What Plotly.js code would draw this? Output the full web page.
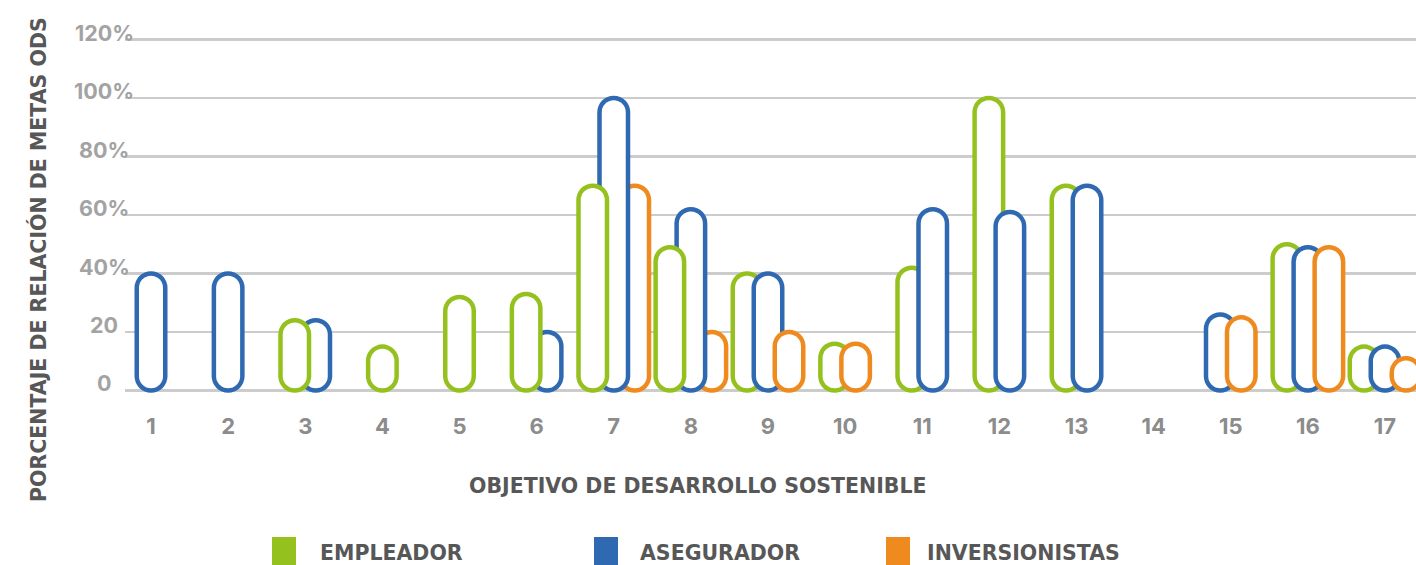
<!DOCTYPE html>
<html>
<head>
<meta charset="utf-8">
<script src="https://cdn.plot.ly/plotly-3.0.1.min.js"></script>
<style>
  html, body { margin: 0; padding: 0; background: #ffffff; }
  #chart .scatterlayer .js-line { stroke-linecap: round; }
</style>
</head>
<body>
<div id="chart" style="width:1416px;height:565px;"></div>
<script>
// ---------------- DATA ----------------
const categories = ['1','2','3','4','5','6','7','8','9','10','11','12','13','14','15','16','17'];
const empleador      = [null, null, 24, 15, 32, 33, 70, 49, 40, 16, 42, 100, 70, null, null, 50, 15];
const asegurador     = [40, 40, 24, null, null, 20, 100, 62, 40, null, 62, 61, 70, null, 26, 49, 15];
const inversionistas = [null, null, null, null, null, null, 70, 20, 20, 16, null, null, null, null, 25, 49, 11];
const seriesNames = ['EMPLEADOR', 'ASEGURADOR', 'INVERSIONISTAS'];
const yTickVals = [0, 20, 40, 60, 80, 100, 120];
const yTickText = ['0', '20', '40%', '60%', '80%', '100%', '120%'];
const xTitle = 'OBJETIVO DE DESARROLLO SOSTENIBLE';
const yTitle = 'PORCENTAJE DE RELACIÓN DE METAS ODS';

// ---------------- STYLE / LAYOUT ----------------
const seriesColors = ['#95C11F', '#2E69B1', '#EE8A1E'];
const FONT = '"DejaVu Sans", Inter, sans-serif';
const NUM_FONT = 'Inter, "DejaVu Sans", sans-serif';
const W = 1416, H = 565;
const M = { l: 125, r: 0, t: 36, b: 171 };
const X_RANGE = [0.6629, 17.402];
const Y_RANGE = [-1.2, 121.2];
const plotW = W - M.l - M.r, plotH = H - M.t - M.b;
const xPerPx = (X_RANGE[1] - X_RANGE[0]) / plotW;
const yPerPx = (Y_RANGE[1] - Y_RANGE[0]) / plotH;
const PILL_W = 33, STROKE = 4.5, STEP_PX = 21;
const capInset = (PILL_W / 2 - STROKE / 2) * yPerPx;
const step = STEP_PX * xPerPx;
const values = [empleador, asegurador, inversionistas];

function px2x(px) { return (px - M.l) / plotW; }
function px2y(py) { return (H - M.b - py) / plotH; }

function barX(gi, si) {
  const present = [0, 1, 2].filter(s => values[s][gi] != null);
  const rank = present.indexOf(si);
  return (gi + 1) + (rank - (present.length - 1) / 2) * step;
}

function segments(si, groups) {
  const xs = [], ys = [];
  groups.forEach(gi => {
    const v = values[si][gi];
    if (v == null) return;
    const x = barX(gi, si);
    const lo = capInset, hi = Math.max(v - capInset, capInset + 0.01);
    xs.push(x, x, null);
    ys.push(lo, hi, null);
  });
  return { xs, ys };
}

// drawing order: groups 1-8 left series on top, groups 9-17 right series on top
const zones = [
  { groups: [0,1,2,3,4,5,6,7], order: [2, 1, 0] },
  { groups: [8,9,10,11,12,13,14,15,16], order: [0, 1, 2] }
];

const traces = [];
zones.forEach(z => {
  z.order.forEach(si => {
    const s = segments(si, z.groups);
    traces.push({
      type: 'scatter', mode: 'lines', x: s.xs, y: s.ys, name: seriesNames[si],
      line: { color: seriesColors[si], width: PILL_W }, hoverinfo: 'skip', showlegend: false
    });
    traces.push({
      type: 'scatter', mode: 'lines', x: s.xs, y: s.ys, name: seriesNames[si],
      line: { color: '#ffffff', width: PILL_W - 2 * STROKE }, hoverinfo: 'skip', showlegend: false
    });
  });
});

const annotations = [];
yTickVals.forEach((v, i) => {
  annotations.push({
    xref: 'paper', yref: 'y', x: px2x(104), y: v, yshift: 7,
    text: yTickText[i], showarrow: false, xanchor: 'center', yanchor: 'middle',
    font: { family: NUM_FONT, size: 21.5, color: '#a3a3a3', weight: 700 }
  });
});
annotations.push({
  xref: 'paper', yref: 'paper', x: px2x(698), y: px2y(486), text: xTitle,
  showarrow: false, xanchor: 'center', yanchor: 'middle',
  font: { family: FONT, size: 20.5, color: '#575757', weight: 700 }
});
annotations.push({
  xref: 'paper', yref: 'paper', x: px2x(38), y: px2y(260), text: yTitle, textangle: -90,
  showarrow: false, xanchor: 'center', yanchor: 'middle',
  font: { family: FONT, size: 20.5, color: '#575757', weight: 700 }
});

const legendSq = [272, 594, 886];
const legendTx = [318, 638, 925];
const shapes = [];
seriesNames.forEach((n, i) => {
  shapes.push({
    type: 'rect', xref: 'paper', yref: 'paper',
    x0: px2x(legendSq[i]), x1: px2x(legendSq[i] + 24), y0: px2y(572), y1: px2y(537),
    fillcolor: seriesColors[i], line: { width: 0 }
  });
  annotations.push({
    xref: 'paper', yref: 'paper', x: px2x(legendTx[i]), y: px2y(553), text: n,
    showarrow: false, xanchor: 'left', yanchor: 'middle',
    font: { family: FONT, size: 20.5, color: '#575757', weight: 700 }
  });
});

const layout = {
  width: W, height: H, margin: M,
  paper_bgcolor: '#ffffff', plot_bgcolor: '#ffffff',
  showlegend: false,
  xaxis: {
    range: X_RANGE, tickmode: 'array',
    tickvals: categories.map((c, i) => i + 1), ticktext: categories,
    showgrid: false, zeroline: false, showline: false, ticks: '',
    ticklabelstandoff: 17,
    tickfont: { family: NUM_FONT, size: 22, color: '#8c8c8c', weight: 700 }
  },
  yaxis: {
    range: Y_RANGE, tickmode: 'array', tickvals: yTickVals, showticklabels: false,
    showgrid: true, gridcolor: '#cccccc', gridwidth: 2.5, zeroline: false, showline: false, ticks: ''
  },
  annotations: annotations,
  shapes: shapes
};

Plotly.newPlot('chart', traces, layout, { displayModeBar: false, staticPlot: true });
</script>
</body>
</html>
